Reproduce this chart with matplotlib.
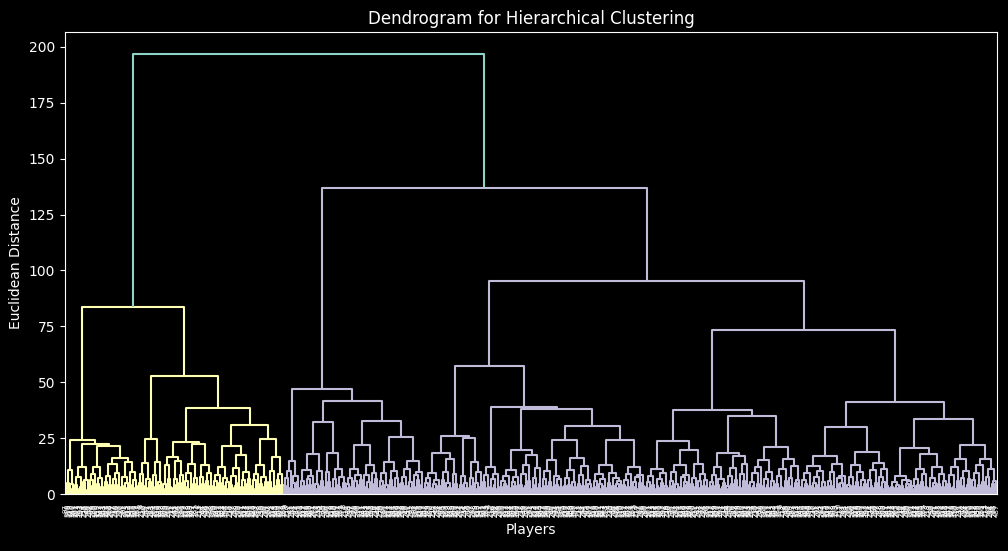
import numpy as np
import matplotlib.pyplot as plt
from matplotlib.collections import LineCollection

plt.style.use('dark_background')

# merge heights (Euclidean distance)
# heights joining the four big groups, left to right
top_joins = [196.9, 136.9, 95.3]

# yellow cluster: heights joining neighbouring sub-groups, then the small merges inside each sub-group
yellow_joins = [24.2, 22.5, 21.6, 16.3, 83.7, 24.8, 52.8, 16.7, 23.1, 22.4, 38.6, 21.5, 31.0, 24.6]
yellow_inner = [
    [3.2, 5.1, 10.7, 4.4, 2.1],
    [4.0, 2.3, 7.5, 3.1, 12.2, 5.2, 1.8, 6.3],
    [2.6, 6.1, 3.5, 8.9, 12.0, 4.7, 2.2, 7.0, 3.3],
    [5.5, 2.4, 8.1, 3.9, 13.3, 2.9, 6.6, 4.2, 9.4, 3.0],
    [3.6, 7.8, 2.5, 5.0, 14.5, 4.1, 9.8, 2.7, 6.2, 3.4],
    [4.8, 2.0, 9.1, 14.0, 3.7, 6.9, 2.6, 5.3],
    [3.1, 8.4, 14.5, 2.9, 5.6, 4.0],
    [4.5, 2.2, 13.0, 6.8, 3.0],
    [2.8, 6.5, 3.9, 14.9, 5.1, 8.7, 2.4],
    [5.9, 3.3, 9.6, 2.1, 13.5, 4.6, 7.2, 3.8],
    [3.0, 7.7, 4.3, 13.0, 2.5, 6.0, 9.2, 3.5],
    [2.7, 5.8, 3.2, 8.3, 4.9, 12.0, 3.6, 7.1, 2.3, 5.4],
    [4.2, 2.6, 7.9, 3.4, 11.5, 5.0, 17.6, 3.1, 6.4, 2.2, 9.9, 4.4, 6.8],
    [3.8, 6.3, 2.4, 9.0, 13.0, 4.7, 2.9, 7.5, 3.3, 5.6],
    [5.2, 2.8, 10.4, 3.6, 16.7, 6.1, 2.5, 8.8, 4.0],
]

# purple cluster, left branch
purple_left_joins = [47.1, 18.0, 32.1, 18.5, 41.6, 22.1, 32.8, 25.6]
purple_left_inner = [
    [3.4, 7.2, 2.6, 10.1, 14.9, 4.8, 2.3, 8.0, 5.5],
    [2.9, 5.7, 3.8, 10.7, 2.4, 6.6, 4.1, 8.2, 3.1],
    [4.6, 2.1, 10.5, 3.7, 6.0],
    [3.3, 10.0, 5.2, 2.5],
    [2.7, 6.9, 4.0, 11.0, 3.2, 7.4, 2.2, 5.1],
    [4.4, 2.5, 7.0, 3.0, 11.0, 5.8, 2.8, 8.5, 3.9, 6.2],
    [3.1, 8.6, 2.4, 5.4, 13.0, 4.3, 9.5, 2.9, 6.7],
    [2.6, 5.9, 3.5, 9.3, 4.1, 2.2, 14.5, 6.4, 3.0, 10.2, 2.7, 7.3, 4.6],
    [4.9, 2.3, 7.6, 3.7, 11.2, 2.8, 5.3, 14.9, 3.2, 8.4, 2.5, 6.1, 9.7, 3.9],
]

# purple cluster, middle branch
purple_mid_joins = [18.5, 15.5, 26.0, 25.2, 57.3, 38.9, 19.7, 38.0, 24.0, 30.4, 24.3]
purple_mid_inner = [
    [2.4, 5.0, 3.1, 7.3, 9.5, 2.9, 4.6, 2.2, 6.4, 3.6],
    [3.5, 6.2, 10.0, 2.6, 5.1, 3.0],
    [2.8, 9.0, 4.5, 2.3],
    [3.9, 2.4, 8.0, 5.0, 2.9],
    [2.5, 7.0, 3.6, 14.5, 4.8, 2.3, 9.9, 3.2],
    [5.4, 2.9, 8.3, 3.3, 12.0, 2.6, 6.5, 4.1, 9.0, 2.4],
    [3.0, 6.0, 2.5, 4.4, 8.1, 3.4, 10.9, 2.7, 5.6, 3.8, 7.4, 2.2],
    [4.1, 2.6, 8.8, 3.5, 13.2, 5.7, 2.3, 17.4, 3.9, 7.0, 2.8, 11.6, 4.5],
    [2.9, 6.6, 3.7, 10.4, 2.4, 5.2, 15.2, 3.3, 8.0, 4.2, 2.6, 6.9, 3.1],
    [3.6, 2.3, 7.1, 4.0, 10.8, 2.7, 5.5, 3.2, 15.9, 4.7, 2.5, 8.6, 3.4, 12.4, 2.9, 6.3, 4.4, 2.1],
    [2.6, 5.9, 3.1, 8.9, 4.3, 2.4, 6.8, 3.7, 13.0, 2.8, 5.0, 9.4, 3.5, 2.2, 7.2, 4.6, 2.9, 5.8],
    [4.0, 2.5, 6.4, 3.3, 9.1, 2.7, 12.0, 5.3, 3.0, 7.8, 2.4, 4.9, 8.5, 3.6],
]

# purple cluster, right branch
purple_right_joins = [23.9, 19.5, 37.7, 18.5, 35.0, 21.2, 73.4, 17.1, 30.1, 18.9, 41.0, 20.7, 18.0, 33.7, 22.1]
purple_right_inner = [
    [3.2, 5.6, 2.6, 8.2, 4.1, 2.3, 11.0, 3.8, 6.7, 2.9, 4.8, 9.3, 3.4, 2.5],
    [2.7, 6.0, 3.5, 9.7, 4.4, 2.4, 13.1, 3.1, 7.6, 2.8, 5.2, 3.9, 8.4],
    [4.3, 2.5, 7.3, 3.2, 13.5, 5.9, 2.6, 9.0, 3.7, 6.1, 2.3],
    [2.9, 5.4, 3.6, 8.7, 12.0, 4.2, 2.4, 6.8, 3.1, 5.0],
    [3.5, 2.4, 7.9, 4.6, 11.8, 2.8, 6.2, 17.0, 3.3, 8.9, 2.6, 5.7, 13.6, 4.0],
    [2.6, 5.3, 3.4, 9.2, 2.9, 4.7, 12.1, 3.7, 15.1, 2.5, 6.6, 4.0, 10.0, 2.8, 5.9, 3.2],
    [4.4, 2.7, 8.0, 3.3, 11.4, 2.5, 5.8, 15.5, 3.6, 7.1, 2.9, 12.6, 4.8, 2.4, 6.3],
    [3.0, 6.4, 2.5, 4.5, 9.5, 3.5, 2.8, 12.7, 5.1, 2.6, 7.7, 3.9, 10.3, 2.9, 5.5, 3.3],
    [2.8, 5.7, 3.6, 9.8, 2.4, 13.4, 4.3, 7.0, 2.6, 5.0, 8.1, 3.2],
    [4.2, 2.6, 7.4, 3.4, 13.0, 2.9, 5.6, 9.9, 3.1, 2.3, 6.2, 4.5],
    [2.5, 6.1, 3.8, 10.6, 2.7, 4.9, 14.0, 3.3, 7.8, 2.4, 5.4, 11.2, 3.6, 2.8],
    [3.1, 2.3, 5.2, 2.7, 4.0, 8.0, 2.5, 3.6, 6.3, 2.2, 4.4, 3.0, 5.8],
    [3.7, 2.4, 6.5, 4.1, 11.0, 2.8, 5.3, 8.8, 3.2, 2.6],
    [2.9, 7.0, 3.5, 5.1, 12.0, 2.5, 4.6, 9.1, 3.3, 6.0, 2.7],
    [4.5, 2.6, 8.6, 3.2, 11.9, 2.4, 5.8, 15.7, 3.7, 7.3, 2.8, 10.5, 4.1, 6.6],
    [3.0, 6.2, 2.5, 9.4, 4.2, 2.9, 12.8, 5.5, 15.5, 3.4, 7.5, 2.6, 11.0, 4.7, 2.4, 5.9],
]

# merge height between each pair of neighbouring leaves (in leaf order)
groups = [(yellow_inner, yellow_joins), (purple_left_inner, purple_left_joins),
          (purple_mid_inner, purple_mid_joins), (purple_right_inner, purple_right_joins)]
gaps = []
for gi, (inner, joins) in enumerate(groups):
    if gi > 0:
        gaps.append(top_joins[gi - 1])
    for ti, g in enumerate(inner):
        if ti > 0:
            gaps.append(joins[ti - 1])
        gaps.extend(g)
gaps = np.array(gaps)
n_leaves = len(gaps) + 1
# player row numbers come out shuffled in leaf order
leaf_labels = [str((i * 211 + 97) % n_leaves) for i in range(n_leaves)]

# rebuild the tree: the largest gap in a run of leaves is where it splits
threshold = 0.7 * gaps.max()
cluster_colors = ['C1', 'C2', 'C3', 'C4', 'C5']
segments = {}
n_clusters = [0]


def build(lo, hi, color):
    if lo == hi:
        return 10 * lo + 5.0, 0.0
    k = lo + int(np.argmax(gaps[lo:hi]))
    h = gaps[k]
    if color is None and h < threshold:
        color = cluster_colors[n_clusters[0] % len(cluster_colors)]
        n_clusters[0] += 1
    xl, hl = build(lo, k, color)
    xr, hr = build(k + 1, hi, color)
    segments.setdefault(color or 'C0', []).append([(xl, hl), (xl, h), (xr, h), (xr, hr)])
    return (xl + xr) / 2, h


fig = plt.figure(figsize=(10.08, 5.51), dpi=100)
ax = fig.add_axes([0.0645, 0.1034, 0.9246, 0.8388])

build(0, n_leaves - 1, None)
for c, segs in segments.items():
    ax.add_collection(LineCollection(segs, colors=c, linewidths=1.5))

ax.set_xlim(0, 10 * n_leaves)
ax.set_ylim(0, gaps.max() * 1.05)
ax.set_xticks(10 * np.arange(n_leaves) + 5)
ax.set_xticklabels(leaf_labels, rotation=90, fontsize=5)
for line in ax.get_xticklines():
    line.set_visible(False)
ax.set_yticks(range(0, 201, 25))

ax.set_title('Dendrogram for Hierarchical Clustering')
ax.set_xlabel('Players')
ax.set_ylabel('Euclidean Distance')

plt.savefig('out.png', dpi=100)
